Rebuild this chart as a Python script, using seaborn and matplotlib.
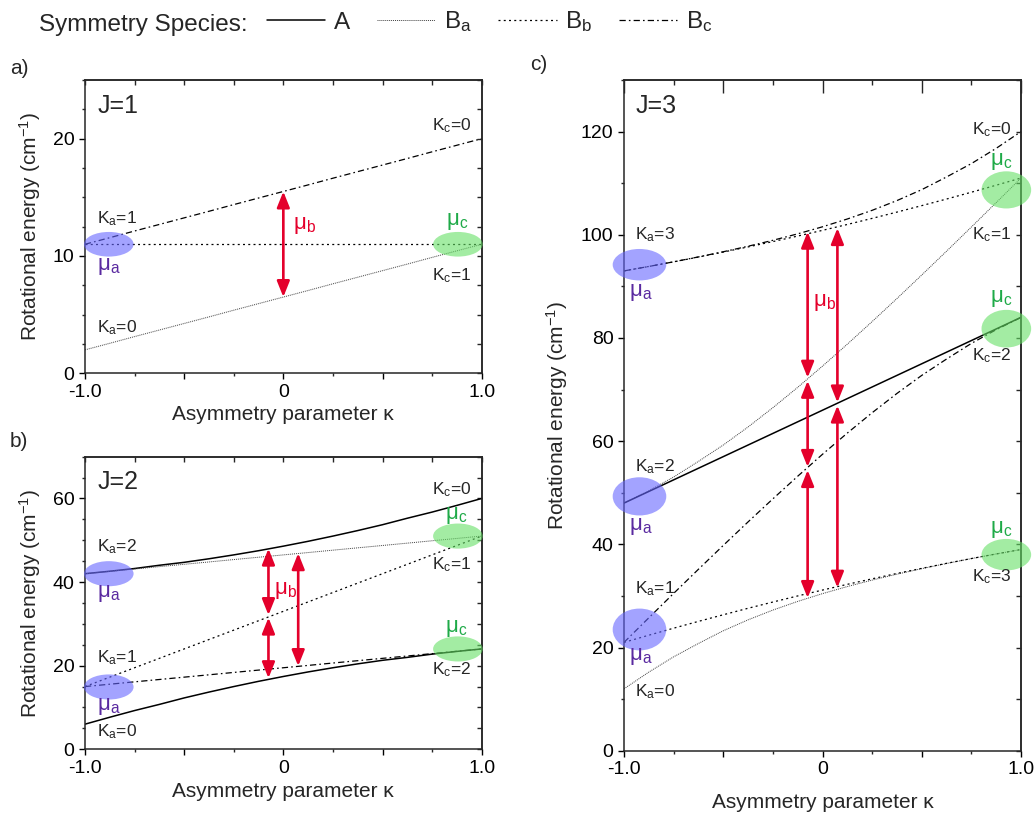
import numpy as np
import pandas as pd
import seaborn as sns
import matplotlib.pyplot as plt
from matplotlib.lines import Line2D
from matplotlib.patches import Ellipse
from matplotlib.ticker import FixedLocator, FixedFormatter, MultipleLocator, NullFormatter

# asymmetry parameter grid
kappa = [-1.0, -0.875, -0.75, -0.625, -0.5, -0.375, -0.25, -0.125, 0.0,
         0.125, 0.25, 0.375, 0.5, 0.625, 0.75, 0.875, 1.0]

# J=1 levels (cm-1)
j1_101 = [2.0, 2.56, 3.13, 3.69, 4.25, 4.81, 5.38, 5.94, 6.5,
          7.06, 7.63, 8.19, 8.75, 9.31, 9.88, 10.44, 11.0]
j1_111 = [11.0, 11.0, 11.0, 11.0, 11.0, 11.0, 11.0, 11.0, 11.0,
          11.0, 11.0, 11.0, 11.0, 11.0, 11.0, 11.0, 11.0]
j1_110 = [11.0, 11.56, 12.13, 12.69, 13.25, 13.81, 14.38, 14.94, 15.5,
          16.06, 16.63, 17.19, 17.75, 18.31, 18.88, 19.44, 20.0]

# J=2 levels
j2_202 = [6.0, 7.66, 9.26, 10.73, 12.28, 13.68, 15.0, 16.25, 17.41,
          18.5, 19.5, 20.43, 21.28, 21.98, 22.76, 23.41, 24.0]
j2_212 = [15.0, 15.56, 16.13, 16.69, 17.25, 17.81, 18.38, 18.94, 19.5,
          20.06, 20.63, 21.19, 21.75, 22.31, 22.88, 23.44, 24.0]
j2_211 = [15.0, 17.25, 19.5, 21.75, 24.0, 26.25, 28.5, 30.75, 33.0,
          35.25, 37.5, 39.75, 42.0, 44.25, 46.5, 48.75, 51.0]
j2_221 = [42.0, 42.56, 43.13, 43.69, 44.25, 44.81, 45.38, 45.94, 46.5,
          47.06, 47.63, 48.19, 48.75, 49.31, 49.88, 50.44, 51.0]
j2_220 = [42.0, 42.59, 43.24, 44.02, 44.72, 45.57, 46.5, 47.5, 48.59,
          49.75, 51.0, 52.32, 53.72, 55.27, 56.74, 58.34, 60.0]

# J=3 levels
j3_303 = [12.0, 15.24, 18.2, 20.79, 23.25, 25.37, 27.26, 28.94, 30.45,
          31.82, 33.07, 34.22, 35.29, 36.29, 37.24, 38.14, 39.0]
j3_313 = [21.0, 22.39, 23.75, 25.07, 26.35, 27.61, 28.82, 30.0, 31.14,
          32.25, 33.32, 34.36, 35.35, 36.32, 37.25, 38.14, 39.0]
j3_312 = [21.0, 25.76, 30.49, 35.17, 39.79, 44.35, 48.82, 53.2, 57.46,
          61.57, 65.51, 69.25, 72.75, 75.92, 78.95, 81.61, 84.0]
j3_322 = [48.0, 50.25, 52.5, 54.75, 57.0, 59.25, 61.5, 63.75, 66.0,
          68.25, 70.5, 72.75, 75.0, 77.25, 79.5, 81.75, 84.0]
j3_321 = [48.0, 50.39, 53.05, 56.08, 59.25, 62.75, 66.49, 70.43, 74.55,
          78.8, 83.18, 87.65, 92.21, 96.83, 101.51, 106.24, 111.0]
j3_331 = [93.0, 93.86, 94.75, 95.68, 96.65, 97.65, 98.68, 99.75, 100.86,
          102.0, 103.18, 104.4, 105.65, 106.93, 108.25, 109.61, 111.0]
j3_330 = [93.0, 93.86, 94.76, 95.71, 96.71, 97.78, 98.93, 100.18, 101.55,
          103.06, 104.74, 106.63, 108.75, 111.21, 113.8, 116.76, 120.0]

species = ['A', 'Ba', 'Bb', 'Bc']
species_labels = ['A', r'B$_\mathregular{a}$', r'B$_\mathregular{b}$', r'B$_\mathregular{c}$']

# mu_b transitions: (kappa, upper energy, lower energy)
arrows_a = [(0.0, 15.5, 6.5)]
arrows_b = [(-0.075, 48.0, 32.1), (-0.075, 31.5, 17.0), (0.075, 46.9, 19.9)]
arrows_c = [(-0.075, 100.6, 72.3), (-0.075, 71.7, 55.0), (-0.075, 54.4, 29.6),
            (0.075, 101.3, 67.5), (0.075, 66.9, 31.6)]

# highlight ellipses: (kappa, energy, width, height)
blue_a = [(-0.88, 11.0, 0.25, 2.1)]
green_a = [(0.88, 11.0, 0.25, 2.1)]
blue_b = [(-0.88, 42.0, 0.25, 6.0), (-0.88, 14.9, 0.25, 6.0)]
green_b = [(0.88, 51.0, 0.25, 6.0), (0.88, 24.0, 0.25, 6.0)]
blue_c = [(-0.922, 94.2, 0.27, 6.1), (-0.922, 49.3, 0.27, 7.4), (-0.922, 23.5, 0.27, 8.1)]
green_c = [(0.926, 108.7, 0.25, 7.2), (0.926, 81.8, 0.25, 7.3), (0.926, 38.0, 0.25, 6.1)]

red = '#e4002b'
purple = '#5a2aa0'
green_txt = '#1faa48'

palette = {'A': 'black', 'Ba': '0.25', 'Bb': 'black', 'Bc': 'black'}
dash_map = {'A': '', 'Ba': (1, 1), 'Bb': (1.6, 2.6), 'Bc': (5, 2.5, 1.3, 2.5)}
width_map = {'A': 1.1, 'Ba': 0.7, 'Bb': 0.9, 'Bc': 0.9}

sns.set_style('ticks')
plt.rcParams['font.family'] = ['Liberation Sans', 'DejaVu Sans']
plt.rcParams['mathtext.fontset'] = 'custom'
plt.rcParams['mathtext.rm'] = 'Liberation Sans'
plt.rcParams['mathtext.it'] = 'Liberation Sans:italic'
plt.rcParams['axes.linewidth'] = 1.1


def long_form(curves):
    rows = []
    for name, sp, values in curves:
        for k, e in zip(kappa, values):
            rows.append({'kappa': k, 'energy': e, 'species': sp, 'level': name})
    return pd.DataFrame(rows)


def draw_levels(ax, curves):
    df = long_form(curves)
    sns.lineplot(data=df, x='kappa', y='energy', hue='species', style='species',
                 size='species', units='level', estimator=None, sort=False,
                 palette=palette, dashes=dash_map, sizes=width_map,
                 legend=False, ax=ax, zorder=2)


def style_axes(ax, ymax, ymajor, yminor, top_major):
    ax.set_xlim(-1, 1)
    ax.set_ylim(0, ymax)
    ax.xaxis.set_major_locator(FixedLocator([-1, -0.5, 0, 0.5, 1]))
    ax.xaxis.set_minor_locator(FixedLocator([-0.75, -0.25, 0.25, 0.75]))
    ax.xaxis.set_major_formatter(FixedFormatter(['-1.0', '', '0', '', '1.0']))
    ax.yaxis.set_major_locator(MultipleLocator(ymajor))
    ax.yaxis.set_minor_locator(MultipleLocator(yminor))
    ax.tick_params(which='major', direction='out', length=4.5, width=1.0,
                   labelsize=14, pad=3, colors='black')
    ax.tick_params(which='minor', direction='out', length=2.5, width=1.0)
    top = ax.secondary_xaxis('top')
    top.xaxis.set_major_locator(FixedLocator([-1, -0.5, 0, 0.5, 1]))
    top.xaxis.set_minor_locator(FixedLocator([-0.75, -0.25, 0.25, 0.75]))
    top.xaxis.set_major_formatter(NullFormatter())
    top.tick_params(which='major', direction='in', length=top_major, width=1.0)
    top.tick_params(which='minor', direction='in', length=3.5, width=1.0)
    right = ax.secondary_yaxis('right')
    right.yaxis.set_major_locator(MultipleLocator(ymajor))
    right.yaxis.set_minor_locator(MultipleLocator(yminor))
    right.yaxis.set_major_formatter(NullFormatter())
    right.tick_params(which='both', direction='in', length=3.5, width=1.0)
    ax.set_xlabel('Asymmetry parameter κ', fontsize=15)
    ax.set_ylabel(r'Rotational energy (cm$^{\mathregular{-1}}$)', fontsize=15)


def draw_ellipses(ax, items, color):
    for k, e, w, h in items:
        ax.add_patch(Ellipse((k, e), w, h, facecolor=color, edgecolor='none',
                             alpha=0.6, zorder=3, clip_on=False))


def draw_arrows(ax, items):
    for k, e_top, e_bot in items:
        ax.annotate('', xy=(k, e_bot), xytext=(k, e_top),
                    arrowprops=dict(arrowstyle='<|-|>,head_length=0.95,head_width=0.38',
                                    color=red, lw=1.9, shrinkA=0, shrinkB=0,
                                    mutation_scale=10),
                    zorder=6)


def k_label(ax, k, e, text):
    ax.text(k, e, text, fontsize=12.5, ha='left', va='center', zorder=5)


def mu_label(ax, k, e, sub, color, ha='center'):
    ax.text(k, e, 'μ$_\\mathregular{' + sub + '}$', fontsize=16, color=color,
            ha=ha, va='center', zorder=5)


fig = plt.figure(figsize=(10.35, 8.13), dpi=100)
ax_a = fig.add_axes([0.0821, 0.5408, 0.3833, 0.3608])
ax_b = fig.add_axes([0.0821, 0.0784, 0.3833, 0.3599])
ax_c = fig.add_axes([0.6029, 0.0766, 0.3836, 0.825])

# panel a: J=1
draw_levels(ax_a, [('1_01', 'Ba', j1_101), ('1_11', 'Bb', j1_111), ('1_10', 'Bc', j1_110)])
style_axes(ax_a, 25, 10, 2.5, 3.5)
draw_ellipses(ax_a, blue_a, '#6666ff')
draw_ellipses(ax_a, green_a, '#66e066')
draw_arrows(ax_a, arrows_a)
ax_a.text(-0.937, 22.8, 'J=1', fontsize=18, ha='left', va='center')
k_label(ax_a, -0.94, 13.2, r'K$_\mathregular{a}$=1')
k_label(ax_a, -0.94, 3.9, r'K$_\mathregular{a}$=0')
k_label(ax_a, 0.75, 21.1, r'K$_\mathregular{c}$=0')
k_label(ax_a, 0.75, 8.3, r'K$_\mathregular{c}$=1')
mu_label(ax_a, -0.88, 9.1, 'a', purple)
mu_label(ax_a, 0.876, 12.9, 'c', green_txt)
mu_label(ax_a, 0.047, 12.6, 'b', red, ha='left')

# panel b: J=2
draw_levels(ax_b, [('2_02', 'A', j2_202), ('2_12', 'Bc', j2_212), ('2_11', 'Bb', j2_211),
                   ('2_21', 'Ba', j2_221), ('2_20', 'A', j2_220)])
style_axes(ax_b, 70, 20, 5, 3.5)
draw_ellipses(ax_b, blue_b, '#6666ff')
draw_ellipses(ax_b, green_b, '#66e066')
draw_arrows(ax_b, arrows_b)
ax_b.text(-0.937, 64.0, 'J=2', fontsize=18, ha='left', va='center')
k_label(ax_b, -0.94, 48.4, r'K$_\mathregular{a}$=2')
k_label(ax_b, -0.94, 21.8, r'K$_\mathregular{a}$=1')
k_label(ax_b, -0.94, 4.2, r'K$_\mathregular{a}$=0')
k_label(ax_b, 0.75, 62.2, r'K$_\mathregular{c}$=0')
k_label(ax_b, 0.75, 44.1, r'K$_\mathregular{c}$=1')
k_label(ax_b, 0.75, 19.0, r'K$_\mathregular{c}$=2')
mu_label(ax_b, -0.88, 37.3, 'a', purple)
mu_label(ax_b, -0.88, 10.2, 'a', purple)
mu_label(ax_b, 0.872, 56.0, 'c', green_txt)
mu_label(ax_b, 0.872, 28.9, 'c', green_txt)
mu_label(ax_b, -0.047, 38.1, 'b', red, ha='left')

# panel c: J=3
draw_levels(ax_c, [('3_03', 'Ba', j3_303), ('3_13', 'Bb', j3_313), ('3_12', 'Bc', j3_312),
                   ('3_22', 'A', j3_322), ('3_21', 'Ba', j3_321), ('3_31', 'Bb', j3_331),
                   ('3_30', 'Bc', j3_330)])
style_axes(ax_c, 130, 20, 10, 9)
draw_ellipses(ax_c, blue_c, '#6666ff')
draw_ellipses(ax_c, green_c, '#66e066')
draw_arrows(ax_c, arrows_c)
ax_c.text(-0.941, 124.9, 'J=3', fontsize=18, ha='left', va='center')
k_label(ax_c, -0.946, 100.0, r'K$_\mathregular{a}$=3')
k_label(ax_c, -0.946, 55.0, r'K$_\mathregular{a}$=2')
k_label(ax_c, -0.946, 31.5, r'K$_\mathregular{a}$=1')
k_label(ax_c, -0.946, 11.4, r'K$_\mathregular{a}$=0')
k_label(ax_c, 0.751, 120.3, r'K$_\mathregular{c}$=0')
k_label(ax_c, 0.751, 100.0, r'K$_\mathregular{c}$=1')
k_label(ax_c, 0.751, 76.6, r'K$_\mathregular{c}$=2')
k_label(ax_c, 0.751, 33.8, r'K$_\mathregular{c}$=3')
mu_label(ax_c, -0.913, 88.8, 'a', purple)
mu_label(ax_c, -0.913, 43.5, 'a', purple)
mu_label(ax_c, -0.913, 18.3, 'a', purple)
mu_label(ax_c, 0.899, 114.2, 'c', green_txt)
mu_label(ax_c, 0.899, 87.7, 'c', green_txt)
mu_label(ax_c, 0.899, 42.8, 'c', green_txt)
mu_label(ax_c, -0.05, 86.9, 'b', red, ha='left')

for ax in (ax_a, ax_b):
    ax.yaxis.set_label_coords(-0.106, 0.5)
ax_a.xaxis.set_label_coords(0.5, -0.107)
ax_b.xaxis.set_label_coords(0.5, -0.112)
ax_c.yaxis.set_label_coords(-0.136, 0.5)
ax_c.xaxis.set_label_coords(0.5, -0.063)

fig.text(10 / 1035, 1 - 68 / 813, 'a)', fontsize=15, va='center')
fig.text(10 / 1035, 1 - 441 / 813, 'b)', fontsize=15, va='center')
fig.text(530 / 1035, 1 - 64 / 813, 'c)', fontsize=15, va='center')

# legend across the top
handles = []
for sp in species:
    ls = '-' if dash_map[sp] == '' else (0, dash_map[sp])
    handles.append(Line2D([], [], color=palette[sp], lw=width_map[sp], linestyle=ls))
fig.text(39 / 1035, 1 - 31 / 813, 'Symmetry Species:', fontsize=17.5, va='baseline')
fig.legend(handles, species_labels, loc='center left', bbox_to_anchor=(267 / 1035, 1 - 22 / 813),
           ncol=4, frameon=False, fontsize=17.5, handlelength=2.4, handletextpad=0.35,
           columnspacing=1.1, borderpad=0, borderaxespad=0)

fig.savefig('out.png', dpi=100)
